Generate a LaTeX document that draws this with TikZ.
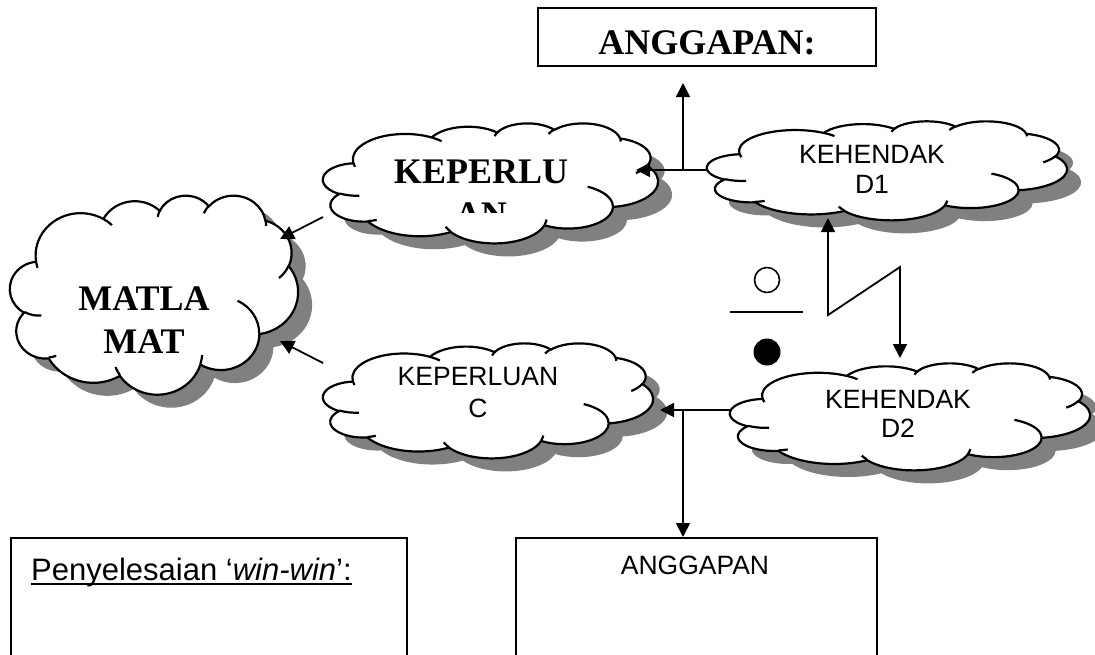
\documentclass[tikz,border=0pt]{standalone}
\usepackage{fontspec}
\setmainfont{Liberation Serif}
\newfontfamily\arialf{Liberation Sans}
\usetikzlibrary{arrows.meta}
\definecolor{shd}{HTML}{808080}

% elliptical arc with DrawingML-style (visual) angles
\newcommand\warc[4]{\pgfextra{%
 \pgfmathsetmacro\wtA{atan2((#1)*sin(#3),(#2)*cos(#3))}%
 \pgfmathsetmacro\wtB{atan2((#1)*sin((#3)+(#4)),(#2)*cos((#3)+(#4)))}%
 \pgfmathsetmacro\wtD{mod((\wtB)-(\wtA)+720,360)}}%
 arc[start angle=\wtA, delta angle=\wtD, x radius=#1, y radius=#2]}

\def\cloudpath{(3.9,14.37) \warc{6.753}{9.19}{-190.4875}{123.7805}
 \warc{5.333}{7.267}{-144.1024}{89.9452}
 \warc{4.365}{5.945}{-145.8079}{99.723}
 \warc{4.857}{6.595}{-130.9861}{117.2417}
 \warc{5.333}{7.273}{-78.7089}{109.0269}
 \warc{6.775}{9.22}{-46.2673}{130.269}
 \warc{5.785}{7.867}{0.625}{114.0333}
 \warc{6.752}{9.215}{22.4516}{115.1726}
 \warc{7.72}{10.543}{66.2426}{75.711}
 \warc{4.36}{5.918}{-274.9421}{146.7356}
 \warc{4.345}{5.945}{-246.8285}{152.5189} -- cycle}

\def\cloudinner{(4.693,26.177) \warc{4.345}{5.945}{86.742}{26.4295}
 (6.928,34.899) \warc{4.36}{5.918}{73.6105}{11.4475}
 (16.478,39.09) \warc{6.752}{9.215}{137.6242}{14.0811}
 (28.827,34.751) \warc{6.752}{9.215}{6.4533}{15.9984}
 (34.129,22.954) \warc{5.785}{7.867}{-70.2924}{70.9174}
 (41.798,15.354) \warc{5.333}{7.273}{30.318}{27.7515}
 (38.324,5.426) \warc{4.857}{6.595}{-13.7443}{14.8589}
 (29.078,3.952) \warc{4.857}{6.595}{-149.1815}{18.1954}
 (22.141,4.72) \warc{4.365}{5.945}{-163.4943}{20.7365}
 (14,5.192) \warc{6.753}{9.19}{-66.707}{12.3194}
 (4.127,15.789) \warc{6.753}{9.19}{157.6544}{11.8582}}

\newcommand\wcloud[4]{%
 \pgfmathsetmacro\cwx{(#3)/43.2}%
 \pgfmathsetmacro\cwy{-(#4)/43.2}%
 \begin{scope}[shift={(#1+14,#2+13)}, x=\cwx pt, y=\cwy pt]
  \fill[shd] \cloudpath;
 \end{scope}
 \begin{scope}[shift={(#1,#2)}, x=\cwx pt, y=\cwy pt]
  \filldraw[cloudln] \cloudpath;
  \draw[cloudln] \cloudinner;
 \end{scope}}

\tikzset{
 cloudln/.style={line width=2.2pt, draw=black, fill=white, line join=round},
 conn/.style={line width=1.8pt, -{Triangle[length=14pt,width=14pt]}},
 conn2/.style={line width=1.8pt, {Triangle[length=14pt,width=14pt]}-{Triangle[length=14pt,width=14pt]}},
 boxln/.style={draw, line width=1.8pt, inner sep=0pt},
 serifbig/.style={font=\bfseries\fontsize{36}{43}\selectfont, align=center, inner sep=0pt, anchor=base},
 sanslab/.style={font=\arialf\fontsize{26.5}{30}\selectfont, align=center, inner sep=0pt, anchor=base}
}

\begin{document}
\begin{tikzpicture}[x=1pt,y=-1pt]
\useasboundingbox (0,0) rectangle (1095,654);
\clip (0,0) rectangle (1095,654);

% clouds
\wcloud{323}{123}{335}{120}
\wcloud{10}{195}{288}{199}
\wcloud{707}{121}{360}{99}
\wcloud{323}{343}{330}{115}
\wcloud{730}{363}{360}{107}

% cloud labels (base anchor = baseline of the last line)
\begin{scope}
 \clip (300,100) rectangle (700,212);
 \node[serifbig] (kpl) at (481,226) {KEPERLU\\AN};
\end{scope}
\node[serifbig] (mat) at (144,353) {MATLA\\MAT};
\node[sanslab] (d1l) at (872,193) {KEHENDAK\\D1};
\node[sanslab, font=\arialf\fontsize{26.5}{32}\selectfont] (kcl) at (478,417) {KEPERLUAN\\C};
\node[sanslab, font=\arialf\fontsize{26.5}{29}\selectfont] (d2l) at (898,437) {KEHENDAK\\D2};

% boxes
\node[boxln, minimum width=338pt, minimum height=58pt] (topbox) at (707,37) {};
\node[serifbig] (toptxt) at (707,54) {ANGGAPAN:};
\node[boxln, minimum width=396pt, minimum height=140pt, anchor=north west] (wbox) at (10,537) {};
\node[boxln, minimum width=361pt, minimum height=140pt, anchor=north west] (abox) at (515,537) {};
\node[sanslab] (atxt) at (695,574) {ANGGAPAN};
\node[font=\arialf\fontsize{31}{36}\selectfont, inner sep=0pt, anchor=base west] (pen) at (31,580) {Penyelesaian ‘\textit{win-win}’:};
\draw[line width=2.3pt] ([yshift=-4pt]pen.base west) -- ([yshift=-4pt]pen.base east);

% symbols
\node[circle, draw, line width=1.6pt, minimum size=25pt, inner sep=0pt] (opn) at (767,280) {};
\coordinate (barl) at (730,312);
\coordinate (barr) at (803,312);
\draw[line width=1.8pt] (barl) -- (barr);
\node[circle, fill=black, minimum size=27pt, inner sep=0pt] (fil) at (767,352) {};

% connectors
\coordinate (D1w) at (707,170);
\coordinate (KPe) at (636,170);
\coordinate (J1) at (683,170);
\coordinate (T1) at (683,83);
\draw[conn] (D1w) -- (KPe);
\draw[conn] (J1) -- (T1);

\coordinate (KPw) at (323,217);
\coordinate (MATne) at (280,239);
\draw[conn] (KPw) -- (MATne);
\coordinate (KCw) at (323,363);
\coordinate (MATse) at (280,341);
\draw[conn] (KCw) -- (MATse);

\coordinate (D1s) at (828,218);
\coordinate (Z1) at (828,315);
\coordinate (Z2) at (900,267);
\coordinate (D2n) at (900,358);
\draw[conn2, line join=miter] (D1s) -- (Z1) -- (Z2) -- (D2n);

\coordinate (D2w) at (730,410);
\coordinate (KCe) at (660,410);
\coordinate (J2) at (683,410);
\draw[conn] (D2w) -- (KCe);
\draw[conn] (J2) -- (J2 |- abox.north);
\end{tikzpicture}
\end{document}
